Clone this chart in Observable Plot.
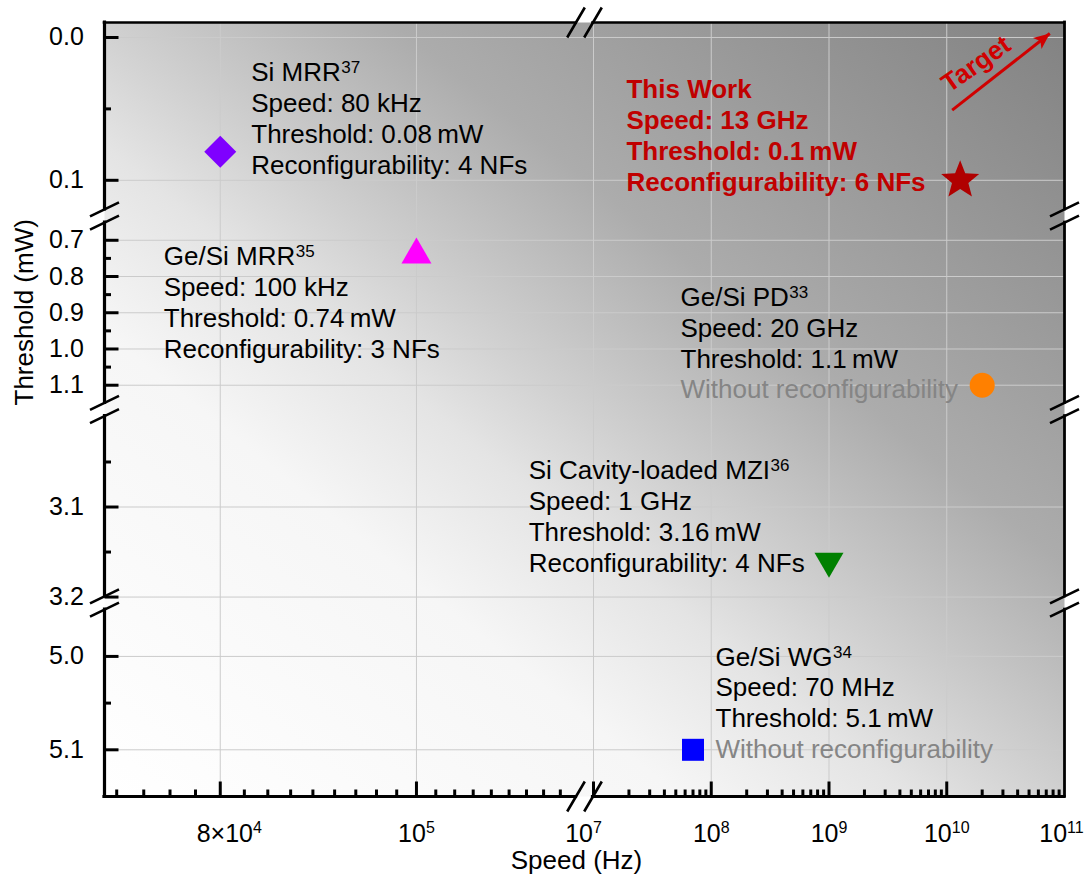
<!DOCTYPE html>
<html><head><meta charset="utf-8">
<script src="https://cdn.jsdelivr.net/npm/d3@7"></script>
<script src="https://cdn.jsdelivr.net/npm/@observablehq/plot@0.6"></script>
<style>
html,body{margin:0;padding:0;background:#fff;}
#chart{width:1086px;height:881px;}
</style></head><body><div id="chart"></div>
<script>
// ---------------- data ----------------
const devices = ["Si MRR", "Ge/Si MRR", "Ge/Si PD", "Si Cavity-loaded MZI", "Ge/Si WG", "This Work"];
const refNumbers = ["37", "35", "33", "36", "34", ""];
const speedHz = [8e4, 1e5, 2e10, 1e9, 7e7, 1.3e10];
const thresholdMW = [0.08, 0.74, 1.1, 3.16, 5.1, 0.1];
const speedLabels = ["80 kHz", "100 kHz", "20 GHz", "1 GHz", "70 MHz", "13 GHz"];
const thresholdLabels = ["0.08", "0.74", "1.1", "3.16", "5.1", "0.1"];
const reconfigNFs = [4, 3, null, 4, null, 6];

// axis (broken) definitions
const ySegments = [[-0.0105, 0.125], [0.633, 1.167], [2.9917, 3.2066], [4.9428, 5.15]];
const xSegments = [[70131, 121060], [8.386e6, 1e11]];
const yTickValues = [0.0, 0.1, 0.7, 0.8, 0.9, 1.0, 1.1, 3.1, 3.2, 5.0, 5.1];
const yMinorValues = [0.05, 0.75, 0.85, 0.95, 1.05, 3.05, 3.15, 5.05];
const xTickValues = [8e4, 1e5, 1e7, 1e8, 1e9, 1e10, 1e11];
const xTickMantissa = ["8×", "", "", "", "", "", ""];
const xTickExponent = ["4", "5", "7", "8", "9", "10", "11"];
const xMinorLeft = [71111, 73333, 75556, 77778, 82222, 84444, 86667, 88889, 91111, 93333, 95556, 97778,
                    102222, 104444, 106667, 108889, 111111, 113333, 115556, 117778];
const xMinorRight = [7, 8, 9, 10].flatMap(e => [2, 3, 4, 5, 6, 7, 8, 9].map(m => m * Math.pow(10, e)));
const targetArrow = {x1: 1.112e10, y1: 0.0509, x2: 7.5e10, y2: -0.0028, label: "Target"};

// ---------------- layout / style ----------------
const FONT = "'Liberation Sans', Arial, Helvetica, sans-serif";
const W = 1086, H = 881, mL = 104, mR = 22, mT = 22, mB = 85;
const PW = W - mL - mR, PH = H - mT - mB;
const xLabelNudge = [9, 0, -10, 0, 0, 0, -3];

function xv(v) { // virtual x in [0,1]
  const n = xSegments.length;
  let i = xSegments.findIndex(([lo, hi]) => v >= lo && v <= hi);
  if (i < 0) i = v < xSegments[0][0] ? 0 : n - 1;
  const [lo, hi] = xSegments[i];
  const t = (Math.log10(v) - Math.log10(lo)) / (Math.log10(hi) - Math.log10(lo));
  return (i + t) / n;
}
function yv(v) { // virtual y in [0,1], 0 = top
  const n = ySegments.length;
  let i = ySegments.findIndex(([lo, hi]) => v >= lo && v <= hi);
  if (i < 0) i = v < ySegments[0][0] ? 0 : n - 1;
  const [lo, hi] = ySegments[i];
  return (i + (v - lo) / (hi - lo)) / n;
}

const ctx2d = document.createElement("canvas").getContext("2d");
function textWidth(s, size, weight = "normal") {
  ctx2d.font = `${weight} ${size}px "Liberation Sans"`;
  return ctx2d.measureText(s).width;
}

// symbols
const sym = {
  diamond: {draw(c) { c.moveTo(0, -16); c.lineTo(16, 0); c.lineTo(0, 16); c.lineTo(-16, 0); c.closePath(); }},
  triUp: {draw(c) { c.moveTo(0, -17.3); c.lineTo(15, 8.7); c.lineTo(-15, 8.7); c.closePath(); }},
  triDown: {draw(c) { c.moveTo(0, 16.7); c.lineTo(14.5, -8.3); c.lineTo(-14.5, -8.3); c.closePath(); }},
  circle: {draw(c) { c.moveTo(12.5, 0); c.arc(0, 0, 12.5, 0, 2 * Math.PI); c.closePath(); }},
  square: {draw(c) { c.moveTo(-11, -11); c.lineTo(11, -11); c.lineTo(11, 11); c.lineTo(-11, 11); c.closePath(); }},
  star: {draw(c) {
    const R = 20, r = 8.6;
    for (let k = 0; k < 10; k++) {
      const a = -Math.PI / 2 + k * Math.PI / 5, rr = k % 2 ? r : R;
      k ? c.lineTo(rr * Math.cos(a), rr * Math.sin(a)) : c.moveTo(rr * Math.cos(a), rr * Math.sin(a));
    }
    c.closePath();
  }},
  head: {draw(c) { c.moveTo(0, 0); c.lineTo(-16, -7); c.lineTo(-12, 0); c.lineTo(-16, 7); c.closePath(); }}
};
const hTick = len => ({draw(c) { c.moveTo(0, 0); c.lineTo(len, 0); }});
const vTick = len => ({draw(c) { c.moveTo(0, 0); c.lineTo(0, -len); }});
const breakV = {draw(c) { for (const o of [-6.6, 6.6]) { c.moveTo(-14.5, o + 7); c.lineTo(14.5, o - 7); } }};
const breakH = {draw(c) { for (const o of [-8.5, 8.5]) { c.moveTo(o - 8.8, 15); c.lineTo(o + 8.8, -15); } }};

const pointStyle = [
  {symbol: sym.diamond, fill: "#7f00ff"},
  {symbol: sym.triUp, fill: "#ff00ff"},
  {symbol: sym.circle, fill: "#ff8000"},
  {symbol: sym.triDown, fill: "#008000"},
  {symbol: sym.square, fill: "#0000ff"},
  {symbol: sym.star, fill: "#b00000"}
];
const textStyle = [
  {dx: 31, dy: -70.5},
  {dx: -252.7, dy: 10.5},
  {dx: -301.7, dy: -79.2},
  {dx: -300.3, dy: -81.7},
  {dx: 22.5, dy: -84.3},
  {dx: -333.7, dy: -82, fill: "#c00000", weight: "bold"}
];
const LH = 30.8, FS = 26;

// ---------------- marks ----------------
const marks = [];
marks.push(Plot.frame({fill: "url(#bgGrad)", stroke: "none"}));

// gridlines
marks.push(Plot.ruleY(yTickValues, {y: d => yv(d), stroke: "#cbcbcb", strokeWidth: 1}));
marks.push(Plot.ruleX(xTickValues.filter(d => d < 1e11), {x: d => xv(d), stroke: "#cbcbcb", strokeWidth: 1}));

// axis lines (with gaps at breaks)
const gy = 6.6 / PH, gx = 8.5 / PW;
const nY = ySegments.length, nX = xSegments.length;
const yLines = ySegments.map((s, i) => ({a: i === 0 ? 0 : i / nY + gy, b: i === nY - 1 ? 1 : (i + 1) / nY - gy}));
const xLines = xSegments.map((s, i) => ({a: i === 0 ? 0 : i / nX + gx, b: i === nX - 1 ? 1 : (i + 1) / nX - gx}));
marks.push(Plot.ruleX(yLines, {x: 0, y1: "a", y2: "b", stroke: "#000", strokeWidth: 3.2, strokeLinecap: "square"}));
marks.push(Plot.ruleX(yLines, {x: 1, y1: "a", y2: "b", stroke: "#000", strokeWidth: 2.8, strokeLinecap: "square"}));
marks.push(Plot.ruleY(xLines, {y: 1, x1: "a", x2: "b", stroke: "#000", strokeWidth: 3.2, strokeLinecap: "square"}));
marks.push(Plot.ruleY(xLines, {y: 0, x1: "a", x2: "b", stroke: "#000", strokeWidth: 2.6, strokeLinecap: "square"}));

// break marks
const yBreaks = ySegments.slice(1).map((s, i) => (i + 1) / nY);
const xBreaks = xSegments.slice(1).map((s, i) => (i + 1) / nX);
for (const xx of [0, 1]) marks.push(Plot.dot(yBreaks, {x: xx, y: d => d, symbol: breakV, stroke: "#000", strokeWidth: 2.6, fill: "none"}));
for (const yy of [0, 1]) marks.push(Plot.dot(xBreaks, {x: d => d, y: yy, symbol: breakH, stroke: "#000", strokeWidth: 2.6, fill: "none"}));

// ticks
marks.push(Plot.dot(yTickValues, {x: 0, y: d => yv(d), symbol: hTick(14), stroke: "#000", strokeWidth: 3, fill: "none"}));
marks.push(Plot.dot(yMinorValues, {x: 0, y: d => yv(d), symbol: hTick(6.5), stroke: "#000", strokeWidth: 3, fill: "none"}));
marks.push(Plot.dot(xTickValues.filter(d => d < 1e11), {x: d => xv(d), y: 1, symbol: vTick(15), stroke: "#000", strokeWidth: 3, fill: "none"}));
marks.push(Plot.dot(xMinorLeft.concat(xMinorRight), {x: d => xv(d), y: 1, symbol: vTick(7), stroke: "#000", strokeWidth: 3, fill: "none"}));

// tick labels
marks.push(Plot.text(yTickValues, {x: 0, y: d => yv(d), text: d => d3.format(".1f")(d), textAnchor: "end", dx: -20.7, fontSize: 25, fill: "#000"}));
xTickValues.forEach((v, i) => {
  const base = xTickMantissa[i] + "10", sup = xTickExponent[i];
  const wb = textWidth(base, 25), ws = textWidth(sup, 16), w = wb + ws;
  const nd = xLabelNudge[i];
  marks.push(Plot.text([v], {x: d => xv(d), y: 1, text: () => base, textAnchor: "start", lineAnchor: "bottom", dx: -w / 2 + nd, dy: 45, fontSize: 25, fill: "#000"}));
  marks.push(Plot.text([v], {x: d => xv(d), y: 1, text: () => sup, textAnchor: "start", lineAnchor: "bottom", dx: -w / 2 + wb + nd, dy: 36, fontSize: 16, fill: "#000"}));
});

// axis titles
marks.push(Plot.text(["Speed (Hz)"], {frameAnchor: "bottom", text: d => d, dx: -8, dy: 72, lineAnchor: "bottom", fontSize: 26, fill: "#000"}));
marks.push(Plot.text(["Threshold (mW)"], {frameAnchor: "left", text: d => d, dx: -80, dy: -4, rotate: -90, fontSize: 26, fill: "#000"}));

// data points
devices.forEach((name, i) => {
  marks.push(Plot.dot([i], {x: j => xv(speedHz[j]), y: j => yv(thresholdMW[j]), symbol: pointStyle[i].symbol, fill: pointStyle[i].fill, stroke: "none"}));
});

// annotations
devices.forEach((name, i) => {
  const st = textStyle[i];
  const fill = st.fill || "#000", weight = st.weight || "normal";
  const lines = [
    {t: name, c: fill},
    {t: `Speed: ${speedLabels[i]}`, c: fill},
    {t: `Threshold: ${thresholdLabels[i]}\u2009mW`, c: fill},
    reconfigNFs[i] == null ? {t: "Without reconfigurability", c: "#858585"} : {t: `Reconfigurability: ${reconfigNFs[i]} NFs`, c: fill}
  ];
  lines.forEach((ln, k) => {
    marks.push(Plot.text([i], {x: j => xv(speedHz[j]), y: j => yv(thresholdMW[j]), text: () => ln.t,
      textAnchor: "start", lineAnchor: "bottom", dx: st.dx, dy: st.dy + k * LH, fontSize: FS, fontWeight: weight, fill: ln.c}));
  });
  if (refNumbers[i]) {
    const w = textWidth(name, FS, weight);
    marks.push(Plot.text([i], {x: j => xv(speedHz[j]), y: j => yv(thresholdMW[j]), text: () => refNumbers[i],
      textAnchor: "start", lineAnchor: "bottom", dx: st.dx + w + 0.5, dy: st.dy - 8, fontSize: 17, fill}));
  }
});

// target arrow
const ta = targetArrow;
const angle = Math.atan2((yv(ta.y2) - yv(ta.y1)) * PH, (xv(ta.x2) - xv(ta.x1)) * PW) * 180 / Math.PI;
marks.push(Plot.link([ta], {x1: d => xv(d.x1), y1: d => yv(d.y1), x2: d => xv(d.x2), y2: d => yv(d.y2), stroke: "#d00000", strokeWidth: 3}));
marks.push(Plot.dot([ta], {x: d => xv(d.x2), y: d => yv(d.y2), symbol: sym.head, rotate: angle, fill: "#d00000", stroke: "none"}));
marks.push(Plot.text([ta], {x: d => xv(d.x1), y: d => yv(d.y1), text: d => d.label, rotate: angle + 3, dx: 24, dy: -46,
  fontSize: 26, fontWeight: "bold", fill: "#d00000"}));

const svg = Plot.plot({
  width: W, height: H,
  marginLeft: mL, marginRight: mR, marginTop: mT, marginBottom: mB,
  x: {type: "linear", domain: [0, 1], axis: null},
  y: {type: "linear", domain: [0, 1], reverse: true, axis: null},
  style: {fontFamily: FONT, background: "#fff", overflow: "visible"},
  marks
});

d3.select(svg).insert("defs", ":first-child").html(`
  <linearGradient id="bgGrad" x1="0" y1="1" x2="1" y2="0">
    <stop offset="0" stop-color="#ffffff"/>
    <stop offset="0.3" stop-color="#f6f6f6"/>
    <stop offset="0.42" stop-color="#e4e4e4"/>
    <stop offset="0.5" stop-color="#d0d0d0"/>
    <stop offset="0.65" stop-color="#acacac"/>
    <stop offset="1" stop-color="#828282"/>
  </linearGradient>`);

document.getElementById("chart").appendChild(svg);
</script></body></html>
